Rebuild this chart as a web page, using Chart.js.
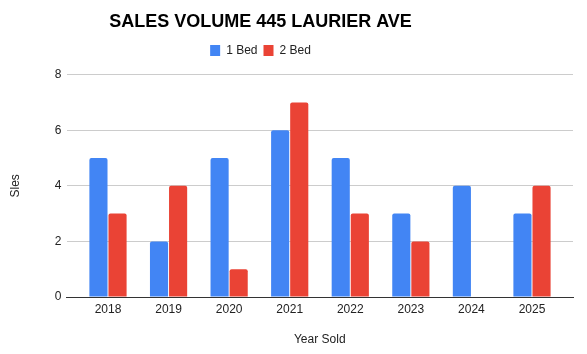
<!DOCTYPE html>
<html>
<head>
<meta charset="utf-8">
<script src="https://cdn.jsdelivr.net/npm/chart.js@4/dist/chart.umd.min.js"></script>
<style>
  html, body { margin: 0; padding: 0; background: #fff; }
  #wrap { width: 587px; height: 354px; }
</style>
</head>
<body>
<div id="wrap"><canvas id="c" width="587" height="354"></canvas></div>
<script>
const categories = ['2018', '2019', '2020', '2021', '2022', '2023', '2024', '2025'];
const oneBed = [5, 2, 5, 6, 5, 3, 4, 3];
const twoBed = [3, 4, 1, 7, 3, 2, 0, 4];
const yTicks = [0, 2, 4, 6, 8];

const FONT = "'Liberation Sans', Arial, sans-serif";

const headerLayout = {
  id: 'headerLayout',
  beforeInit(chart) {
    const origFit = chart.legend.fit;
    chart.legend.fit = function () {
      origFit.bind(this)();
      this.height += 8;
    };
  },
  afterLayout(chart) {
    const shift = 26;
    if (chart.legend) { chart.legend.left -= shift; chart.legend.right -= shift; }
    if (chart.titleBlock) { chart.titleBlock.left -= shift; chart.titleBlock.right -= shift; }
  }
};

new Chart(document.getElementById('c'), {
  type: 'bar',
  data: {
    datasets: [
      {
        label: '1 Bed',
        data: oneBed.map((v, i) => ({ x: i, y: v })),
        backgroundColor: '#4285F4',
        borderRadius: { topLeft: 2, topRight: 2 },
        borderSkipped: 'start'
      },
      {
        label: '2 Bed',
        data: twoBed.map((v, i) => ({ x: i, y: v })),
        backgroundColor: '#EA4335',
        borderRadius: { topLeft: 2, topRight: 2 },
        borderSkipped: 'start'
      }
    ]
  },
  plugins: [headerLayout],
  options: {
    responsive: false,
    animation: false,
    categoryPercentage: 0.63,
    barPercentage: 0.95,
    layout: { padding: { left: 0, right: 14, top: 4, bottom: 0 } },
    plugins: {
      title: {
        display: true,
        text: 'SALES VOLUME 445 LAURIER AVE',
        color: '#000',
        font: { family: FONT, size: 18, weight: 'bold' },
        padding: { top: 7, bottom: 6 }
      },
      legend: {
        display: true,
        position: 'top',
        labels: {
          color: '#222',
          font: { family: FONT, size: 12 },
          boxWidth: 10,
          boxHeight: 11,
          padding: 6
        }
      },
      tooltip: { enabled: false }
    },
    scales: {
      x: {
        type: 'linear',
        offset: false,
        min: -0.685,
        max: 7.677,
        afterBuildTicks(scale) {
          scale.ticks = categories.map((c, i) => ({ value: i }));
        },
        ticks: {
          color: '#222',
          font: { family: FONT, size: 12 },
          padding: 5,
          autoSkip: false,
          maxRotation: 0,
          callback: (v) => categories[v]
        },
        grid: { display: false, drawTicks: false },
        border: { display: true, color: '#333', width: 1 },
        title: {
          display: true,
          text: 'Year Sold',
          color: '#222',
          font: { family: FONT, size: 12 },
          padding: { top: 10, bottom: 7 }
        },
        afterFit(scale) { scale.height = 57; }
      },
      y: {
        min: 0,
        max: 8,
        afterBuildTicks(scale) {
          scale.ticks = yTicks.map(v => ({ value: v }));
        },
        ticks: {
          color: '#222',
          font: { family: FONT, size: 12 },
          padding: 5
        },
        grid: {
          drawTicks: false,
          color: (ctx) => ctx.tick && ctx.tick.value === 0 ? '#333' : '#ccc',
          lineWidth: 1
        },
        border: { display: false },
        title: {
          display: true,
          text: 'Sles',
          color: '#222',
          font: { family: FONT, size: 12 },
          padding: { top: 8, bottom: 8 }
        },
        afterFit(scale) { scale.width = 66.5; }
      }
    }
  }
});
</script>
</body>
</html>
